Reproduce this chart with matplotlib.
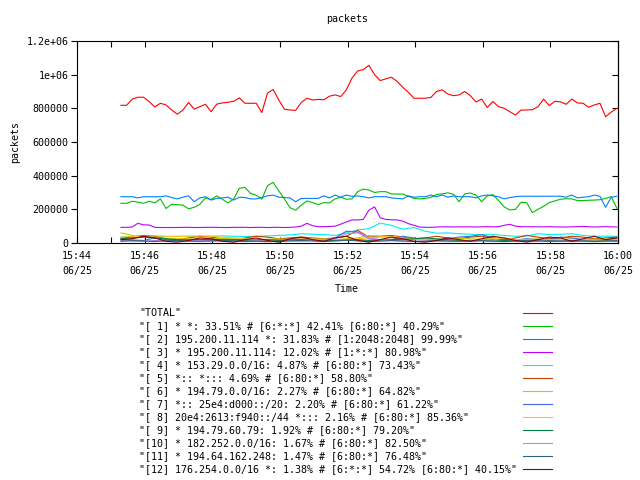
import datetime as dt
import matplotlib
matplotlib.use("Agg")
import matplotlib.pyplot as plt
import matplotlib.dates as mdates
from matplotlib.lines import Line2D
from matplotlib.ticker import FixedLocator, FixedFormatter

# ---------------- data ----------------
TIME_START = dt.datetime(2011, 6, 25, 15, 45, 18)
STEP_SECONDS = 10
N_POINTS = 89
times = [TIME_START + dt.timedelta(seconds=STEP_SECONDS * i) for i in range(N_POINTS)]
times_small = times[::2]

total = [818, 818, 855, 866, 866, 840, 808, 830, 820, 790,
         765, 790, 835, 795, 810, 824, 780, 825, 832, 836,
         842, 862, 830, 830, 830, 775, 890, 912, 850, 795,
         790, 788, 835, 860, 850, 853, 851, 872, 880, 870,
         910, 980, 1022, 1030, 1055, 1000, 965, 975, 985, 960,
         925, 895, 860, 860, 860, 865, 900, 910, 885, 875,
         880, 900, 875, 838, 855, 805, 840, 810, 800, 780,
         760, 790, 790, 792, 810, 855, 816, 842, 838, 824,
         855, 832, 830, 806, 820, 830, 750, 778, 800]

s1 = [236, 236, 248, 243, 236, 248, 238, 262, 205, 230,
      228, 225, 203, 212, 230, 268, 258, 280, 260, 238,
      262, 325, 330, 295, 284, 260, 340, 360, 310, 262,
      210, 195, 225, 250, 240, 228, 240, 238, 262, 272,
      260, 262, 305, 320, 315, 300, 305, 305, 291, 291,
      291, 278, 265, 262, 265, 272, 288, 292, 298, 290,
      245, 292, 297, 285, 245, 280, 288, 252, 215, 196,
      200, 242, 240, 180, 200, 218, 240, 250, 260, 263,
      262, 252, 252, 254, 255, 257, 265, 275, 206]

s2 = [275, 275, 275, 268, 275, 275, 275, 275, 280, 270,
      262, 272, 280, 245, 268, 275, 255, 265, 268, 272,
      255, 272, 270, 262, 262, 270, 280, 285, 272, 270,
      268, 245, 265, 265, 265, 265, 280, 268, 285, 272,
      285, 277, 280, 275, 268, 275, 275, 275, 268, 265,
      262, 280, 272, 275, 275, 285, 275, 285, 272, 280,
      275, 275, 275, 268, 280, 285, 280, 275, 262, 270,
      275, 278, 278, 278, 278, 278, 278, 278, 278, 272,
      285, 268, 272, 275, 285, 277, 212, 272, 278]

s3 = [93, 93, 95, 117, 108, 107, 93, 92, 92, 92,
      92, 93, 93, 92, 92, 93, 93, 93, 92, 92,
      93, 93, 93, 92, 93, 93, 92, 93, 93, 92,
      93, 95, 100, 117, 103, 97, 97, 98, 100, 112,
      125, 137, 137, 140, 195, 215, 150, 140, 138, 137,
      130, 115, 105, 95, 93, 93, 95, 96, 96, 95,
      96, 96, 96, 95, 96, 97, 96, 97, 105, 111,
      100, 97, 96, 97, 96, 96, 97, 96, 95, 95,
      96, 97, 98, 97, 95, 96, 97, 96, 95]

# smaller series, read on a 20 s grid
s4 = [35, 38, 40, 40, 38, 40, 40, 38, 40, 42, 40, 38, 40, 42, 45, 48, 55, 52, 50, 45,
      60, 78, 85, 118, 105, 82, 92, 70, 58, 60, 55, 52, 50, 50, 45, 40, 42, 55, 50, 52,
      55, 45, 40, 40, 40]
s5 = [30, 35, 45, 40, 25, 20, 30, 40, 35, 25, 20, 30, 40, 35, 25, 30, 35, 30, 25, 30,
      40, 75, 35, 40, 45, 35, 25, 30, 40, 30, 25, 35, 40, 30, 20, 30, 45, 35, 25, 30,
      40, 35, 25, 30, 35]
s6 = [60, 45, 35, 30, 28, 25, 25, 22, 25, 28, 25, 22, 20, 22, 25, 22, 20, 22, 25, 20,
      25, 30, 45, 40, 30, 25, 20, 22, 20, 25, 28, 25, 22, 30, 25, 20, 22, 25, 20, 22,
      25, 20, 22, 25, 20]
s7 = [20, 18, 15, 30, 20, 15, 18, 20, 15, 18, 20, 22, 18, 15, 20, 22, 25, 20, 18, 30,
      70, 65, 25, 20, 18, 40, 30, 20, 18, 25, 35, 40, 50, 30, 20, 18, 25, 20, 18, 35,
      30, 20, 18, 20, 25]
s8 = [35, 38, 40, 42, 40, 38, 40, 42, 40, 35, 30, 25, 20, 15, 18, 20, 25, 22, 20, 18,
      20, 25, 30, 35, 40, 30, 25, 20, 18, 20, 15, 18, 20, 25, 30, 20, 18, 15, 20, 18,
      15, 20, 18, 15, 20]
s9 = [25, 30, 35, 30, 25, 20, 18, 20, 22, 20, 18, 15, 18, 20, 15, 18, 20, 15, 12, 15,
      18, 20, 15, 18, 20, 22, 25, 30, 25, 20, 15, 12, 15, 18, 15, 12, 10, 12, 15, 12,
      10, 12, 10, 12, 10]
s10 = [15, 12, 10, 15, 12, 10, 12, 15, 12, 10, 8, 10, 12, 10, 8, 12, 10, 15, 20, 25,
       55, 60, 30, 20, 15, 12, 10, 12, 10, 8, 10, 15, 12, 10, 8, 10, 12, 15, 10, 12,
       15, 10, 8, 10, 12]
s11 = [10, 14, 12, 9, 13, 15, 11, 10, 12, 16, 13, 9, 11, 8, 10, 13, 15, 12, 9, 12,
       16, 13, 10, 11, 14, 12, 9, 11, 15, 13, 10, 12, 14, 11, 9, 12, 15, 13, 10, 11,
       14, 12, 9, 12, 14]
s12 = [20, 25, 40, 30, 10, 5, 15, 30, 25, 10, 5, 20, 30, 15, 5, 25, 35, 20, 10, 30,
       40, 15, 5, 20, 35, 25, 10, 5, 15, 30, 20, 10, 25, 40, 30, 15, 5, 20, 35, 30,
       10, 25, 40, 20, 30]

labels = [
    '"TOTAL"',
    '"[ 1] * *: 33.51% # [6:*:*] 42.41% [6:80:*] 40.29%"',
    '"[ 2] 195.200.11.114 *: 31.83% # [1:2048:2048] 99.99%"',
    '"[ 3] * 195.200.11.114: 12.02% # [1:*:*] 80.98%"',
    '"[ 4] * 153.29.0.0/16: 4.87% # [6:80:*] 73.43%"',
    '"[ 5] *:: *::: 4.69% # [6:80:*] 58.80%"',
    '"[ 6] * 194.79.0.0/16: 2.27% # [6:80:*] 64.82%"',
    '"[ 7] *:: 25e4:d000::/20: 2.20% # [6:80:*] 61.22%"',
    '"[ 8] 20e4:2613:f940::/44 *::: 2.16% # [6:80:*] 85.36%"',
    '"[ 9] * 194.79.60.79: 1.92% # [6:80:*] 79.20%"',
    '"[10] * 182.252.0.0/16: 1.67% # [6:80:*] 82.50%"',
    '"[11] * 194.64.162.248: 1.47% # [6:80:*] 76.48%"',
    '"[12] 176.254.0.0/16 *: 1.38% # [6:*:*] 54.72% [6:80:*] 40.15%"',
]
colors = ['#ff0000', '#00c000', '#0080ff', '#c000ff', '#00eeee', '#c04000',
          '#c8c800', '#4169e1', '#ffc020', '#008040', '#c080ff', '#306080', '#8b0000']

y_ticks = [0, 200000, 400000, 600000, 800000, 1000000, 1200000]
y_tick_labels = ['0', '200000', '400000', '600000', '800000', '1e+06', '1.2e+06']
x_tick_times = [dt.datetime(2011, 6, 25, 15, m) for m in range(44, 60, 2)] + [dt.datetime(2011, 6, 25, 16, 0)]
x_minor_times = [dt.datetime(2011, 6, 25, 15, 45)]
x_range = (dt.datetime(2011, 6, 25, 15, 44), dt.datetime(2011, 6, 25, 16, 0))

# ---------------- plot ----------------
FONT = 'DejaVu Sans Mono'
FS = 7.2
plt.rcParams['font.family'] = FONT
plt.rcParams['font.size'] = FS

W, H = 640, 480
fig = plt.figure(figsize=(6.4, 4.8), dpi=100)
L, R, T, B = 77, 618, 41, 243
ax = fig.add_axes([L / W, 1 - B / H, (R - L) / W, (B - T) / H])

series = [(times, total), (times, s1), (times, s2), (times, s3),
          (times_small, s4), (times_small, s5), (times_small, s6), (times_small, s7),
          (times_small, s8), (times_small, s9), (times_small, s10), (times_small, s11),
          (times_small, s12)]
lw = 0.8
for (tx, vals), c in zip(series, colors):
    ax.plot(tx, [v * 1000 for v in vals], color=c, lw=lw)

ax.set_xlim(*x_range)
ax.set_ylim(0, 1200000)
ax.yaxis.set_major_locator(FixedLocator(y_ticks))
ax.yaxis.set_major_formatter(FixedFormatter(y_tick_labels))
ax.tick_params(axis='y', direction='out', length=4, width=0.8, pad=2, labelsize=FS, left=True, right=False)
sec = ax.secondary_yaxis('right')
sec.yaxis.set_major_locator(FixedLocator(y_ticks))
sec.tick_params(axis='y', direction='in', length=4, width=0.8, labelright=False)
sec.spines['right'].set_linewidth(0.8)

ax.xaxis.set_major_locator(FixedLocator(mdates.date2num(x_tick_times)))
ax.xaxis.set_major_formatter(mdates.DateFormatter('%H:%M\n%m/%d'))
ax.xaxis.set_minor_locator(FixedLocator(mdates.date2num(x_minor_times)))
ax.tick_params(axis='x', which='both', direction='in', length=4, width=0.8, top=True, bottom=True, pad=6, labelsize=FS)
for lbl in ax.get_xticklabels():
    lbl.set_linespacing(1.6)
for s in ax.spines.values():
    s.set_linewidth(0.8)

fig.text(347 / W, 1 - 19 / H, 'packets', ha='center', va='center', fontsize=FS)
fig.text(15 / W, 1 - 142 / H, 'packets', ha='center', va='center', rotation=90, fontsize=FS)
fig.text(347 / W, 1 - 289 / H, 'Time', ha='center', va='center', fontsize=FS)

# legend (gnuplot style: text left, sample right)
for k, (lab, c) in enumerate(zip(labels, colors)):
    y = 1 - (313.3 + 12.95 * k) / H
    fig.text(139 / W, y, lab, ha='left', va='center', fontsize=FS)
    fig.add_artist(Line2D([523 / W, 552 / W], [y, y], color=c, lw=lw, transform=fig.transFigure))

fig.savefig('out.png', dpi=100)
